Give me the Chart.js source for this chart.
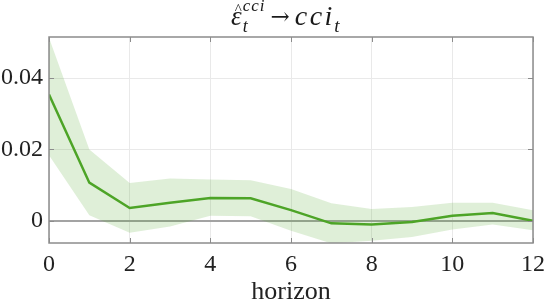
<!DOCTYPE html>
<html><head><meta charset="utf-8">
<script src="https://cdn.jsdelivr.net/npm/chart.js@4/dist/chart.umd.min.js"></script>
<style>html,body{margin:0;padding:0;background:#fff;}canvas{display:block;}</style>
</head><body>
<canvas id="c" width="545" height="305"></canvas>
<script>
const horizon = [0, 1, 2, 3, 4, 5, 6, 7, 8, 9, 10, 11, 12];
const irf   = [0.0354, 0.0107, 0.0036, 0.0051, 0.0064, 0.0063, 0.0030, -0.0007, -0.0010, -0.0003, 0.0014, 0.0022, 0.0000];
const upper = [0.0513, 0.0200, 0.0106, 0.0119, 0.0116, 0.0114, 0.0089, 0.0049, 0.0033, 0.0039, 0.0051, 0.0051, 0.0030];
const lower = [0.0184, 0.0016, -0.0033, -0.0016, 0.0014, 0.0013, -0.0028, -0.0063, -0.0056, -0.0045, -0.0024, -0.0010, -0.0026];
const xTicks = [0, 2, 4, 6, 8, 10, 12];
const yTicks = [0, 0.02, 0.04];
const yTickLabels = ['0', '0.02', '0.04'];
const xLabel = 'horizon';

const SERIF = "'Liberation Serif', 'DejaVu Serif', serif";
const AXIS = '#8c8c8c';
const GRID = '#e9e9e9';
const ZERO = '#a3a3a3';
const LINE = '#4ea428';
const BAND = 'rgba(78,164,40,0.18)';

const pts = a => horizon.map((h, i) => ({x: h, y: a[i]}));

// draws text char by char with extra spacing, returns end x
function spaced(ctx, text, x, y, font, extra) {
  ctx.font = font;
  for (const ch of text) {
    ctx.fillText(ch, x, y);
    x += ctx.measureText(ch).width + extra;
  }
  return x - extra;
}

const titlePlugin = {
  id: 'mathTitle',
  afterDraw(chart) {
    const ctx = chart.ctx, ca = chart.chartArea;
    const cx = (ca.left + ca.right) / 2;   // title centred on axes
    const base = 25;
    const fi = s => `italic ${s}px ${SERIF}`;
    ctx.save();
    ctx.fillStyle = '#1a1a1a';
    ctx.textBaseline = 'alphabetic';
    ctx.textAlign = 'left';
    let x = cx - 60;
    // epsilon with hat
    ctx.font = fi(27);
    ctx.fillText('ε', x, base);
    const ew = ctx.measureText('ε').width;
    ctx.font = `15px ${SERIF}`;
    ctx.textAlign = 'center';
    ctx.fillText('^', x + ew / 2 + 2, base - 11);
    ctx.textAlign = 'left';
    x += ew + 1;
    // superscript / subscript
    const supEnd = spaced(ctx, 'cci', x, base - 14, fi(17), 1);
    spaced(ctx, 't', x, base + 7, fi(18), 0);
    x = supEnd + 6;
    // arrow
    ctx.font = `23px 'DejaVu Serif', serif`;
    ctx.fillText('→', x, base - 1);
    x += ctx.measureText('→').width + 5;
    // cci_t
    x = spaced(ctx, 'cci', x, base, fi(28), 2.5);
    spaced(ctx, 't', x + 2, base + 7, fi(19), 0);
    ctx.restore();
  }
};

const boxPlugin = {
  id: 'boxTicks',
  afterDatasetsDraw(chart) {
    const ctx = chart.ctx, ca = chart.chartArea;
    const xs = chart.scales.x, ys = chart.scales.y;
    ctx.save();
    ctx.strokeStyle = AXIS;
    ctx.lineWidth = 1.5;
    ctx.strokeRect(ca.left, ca.top, ca.right - ca.left, ca.bottom - ca.top);
    ctx.lineWidth = 1;
    const L = 5;
    ctx.beginPath();
    xTicks.forEach(v => {
      const px = Math.round(xs.getPixelForValue(v)) + 0.5;
      ctx.moveTo(px, ca.bottom); ctx.lineTo(px, ca.bottom - L);
      ctx.moveTo(px, ca.top); ctx.lineTo(px, ca.top + L);
    });
    yTicks.forEach(v => {
      const py = Math.round(ys.getPixelForValue(v)) + 0.5;
      ctx.moveTo(ca.left, py); ctx.lineTo(ca.left + L, py);
      ctx.moveTo(ca.right, py); ctx.lineTo(ca.right - L, py);
    });
    ctx.stroke();
    ctx.restore();
  }
};

new Chart(document.getElementById('c'), {
  type: 'line',
  data: {
    datasets: [
      {label: 'upper', data: pts(upper), borderWidth: 0, pointRadius: 0, fill: '+1', backgroundColor: BAND, borderColor: 'rgba(0,0,0,0)', tension: 0},
      {label: 'lower', data: pts(lower), borderWidth: 0, pointRadius: 0, fill: false, borderColor: 'rgba(0,0,0,0)', tension: 0},
      {label: 'irf', data: pts(irf), borderWidth: 2.5, pointRadius: 0, fill: false, borderColor: LINE, tension: 0}
    ]
  },
  options: {
    responsive: false,
    animation: false,
    devicePixelRatio: 1,
    layout: {padding: {top: 37, right: 12, left: 0, bottom: 0}},
    plugins: {legend: {display: false}, tooltip: {enabled: false}, title: {display: false}},
    scales: {
      x: {
        type: 'linear', min: 0, max: 12,
        afterBuildTicks: s => { s.ticks = xTicks.map(v => ({value: v})); },
        afterFit: s => { s.height = 62; s.paddingLeft = 0; s.paddingRight = 0; },
        grid: {color: GRID, lineWidth: 1, drawTicks: false},
        border: {display: false},
        ticks: {padding: 10, color: '#222', font: {family: SERIF, size: 24, lineHeight: 1}, maxRotation: 0, autoSkip: false,
                callback: v => String(v)},
        title: {display: true, text: xLabel, color: '#222', font: {family: SERIF, size: 26, lineHeight: 0.7}, padding: {top: 0, bottom: 4}}
      },
      y: {
        type: 'linear', min: -0.0062, max: 0.0515,
        afterBuildTicks: s => { s.ticks = yTicks.map(v => ({value: v})); },
        afterFit: s => { s.width = 49; s.paddingTop = 0; s.paddingBottom = 0; },
        grid: {
          color: c => (c.tick && c.tick.value === 0) ? ZERO : GRID,
          lineWidth: c => (c.tick && c.tick.value === 0) ? 2 : 1,
          drawTicks: false
        },
        border: {display: false},
        ticks: {padding: 6, color: '#222', font: {family: SERIF, size: 24, lineHeight: 1},
                callback: (v) => { const i = yTicks.indexOf(v); return i >= 0 ? yTickLabels[i] : ''; }}
      }
    }
  },
  plugins: [titlePlugin, boxPlugin]
});
</script>
</body></html>
